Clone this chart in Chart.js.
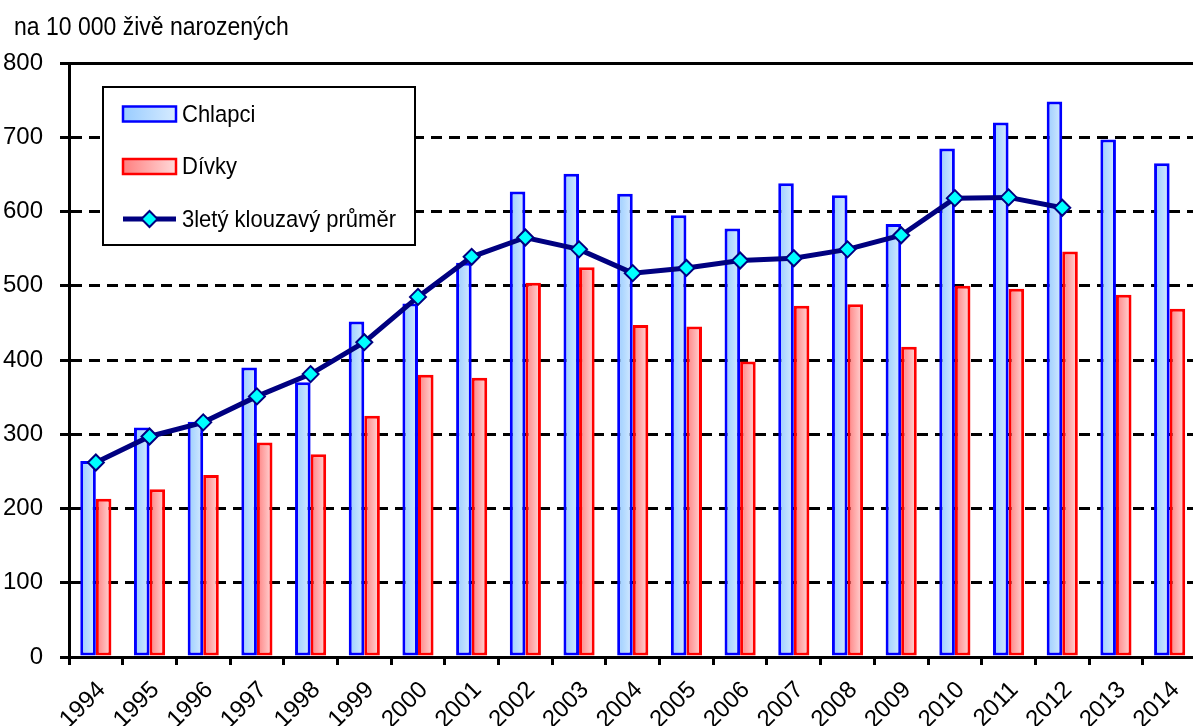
<!DOCTYPE html>
<html lang="cs">
<head>
<meta charset="utf-8">
<title>Chlapci a dívky na 10 000 živě narozených</title>
<script src="https://cdn.jsdelivr.net/npm/chart.js@4"></script>
<style>
  html, body { margin: 0; padding: 0; background: #fff; overflow: hidden; }
  canvas { display: block; }
</style>
</head>
<body>
<canvas id="chart" width="1201" height="726"></canvas>
<script>
// Years on the x axis
const years = ['1994', '1995', '1996', '1997', '1998', '1999', '2000', '2001', '2002', '2003',
  '2004', '2005', '2006', '2007', '2008', '2009', '2010', '2011', '2012', '2013', '2014'];

// Rates per 10 000 live births
const boys = [264, 309, 317, 390, 370, 452, 476, 531, 627, 651,
  624, 595, 577, 638, 622, 583, 685, 720, 748, 697, 665];
const girls = [213, 226, 245, 289, 273, 325, 380, 376, 504, 525,
  447, 445, 398, 473, 475, 418, 500, 496, 546, 488, 469];

// 3-year moving average (no value for the last two years)
const movingAvg = [262, 297, 316, 351, 381, 424, 485, 539, 565, 549,
  517, 524, 534, 537, 549, 568, 618, 619, 605, null, null];

const yMax = 800;
const yStep = 100;
const unitLabel = 'na 10 000 živě narozených';

const FONT = 'Liberation Sans, Arial, sans-serif';

// Text drawn by the plugins is slightly taller than the stock face
function tallText(ctx, text, x, y, size) {
  ctx.save();
  ctx.font = size + 'px ' + FONT;
  ctx.translate(x, y);
  ctx.scale(1, 1.12);
  ctx.fillText(text, 0, 0);
  ctx.restore();
}

/**
 * Horizontal gradient fill for each bar, spanning its own width
 */
const barGradients = {
  id: 'barGradients',
  beforeDatasetsDraw(chart) {
    const ctx = chart.ctx;
    chart.data.datasets.forEach((ds, i) => {
      if (!ds.gradient) return;
      chart.getDatasetMeta(i).data.forEach(bar => {
        const x0 = bar.x - bar.width / 2;
        const g = ctx.createLinearGradient(x0, 0, x0 + bar.width, 0);
        g.addColorStop(0, ds.gradient[0]);
        g.addColorStop(1, ds.gradient[1]);
        bar.options.backgroundColor = g;
      });
    });
  }
};

/**
 * Unit caption above the value axis
 */
const unitCaption = {
  id: 'unitCaption',
  afterDraw(chart) {
    const ctx = chart.ctx;
    ctx.save();
    ctx.fillStyle = '#000';
    ctx.textAlign = 'left';
    ctx.textBaseline = 'alphabetic';
    tallText(ctx, unitLabel, 14, 35, 23);
    ctx.restore();
  }
};

/**
 * Boxed legend inside the plot area
 */
const boxLegend = {
  id: 'boxLegend',
  afterDatasetsDraw(chart) {
    const ctx = chart.ctx;
    const area = chart.chartArea;
    const left = area.left + 34;
    const top = area.top + 24;
    const width = 312;
    const height = 158;
    const rows = [1, 2, 0].map(i => chart.data.datasets[i]);

    ctx.save();
    ctx.fillStyle = '#fff';
    ctx.fillRect(left, top, width, height);
    ctx.lineWidth = 2;
    ctx.strokeStyle = '#000';
    ctx.strokeRect(left, top, width, height);

    const sx = left + 20;
    const sw = 53;
    rows.forEach((ds, r) => {
      const cy = top + 27 + r * 52.5;
      if (ds.gradient) {
        const g = ctx.createLinearGradient(sx, 0, sx + sw, 0);
        g.addColorStop(0, ds.gradient[0]);
        g.addColorStop(1, ds.gradient[1]);
        ctx.fillStyle = g;
        ctx.fillRect(sx, cy - 7.5, sw, 15);
        ctx.lineWidth = 2.5;
        ctx.strokeStyle = ds.borderColor;
        ctx.strokeRect(sx, cy - 7.5, sw, 15);
      } else {
        ctx.lineWidth = ds.borderWidth;
        ctx.strokeStyle = ds.borderColor;
        ctx.beginPath();
        ctx.moveTo(sx, cy);
        ctx.lineTo(sx + sw, cy);
        ctx.stroke();
        const cx = sx + sw / 2;
        const rr = ds.pointRadius;
        ctx.beginPath();
        ctx.moveTo(cx - rr, cy);
        ctx.lineTo(cx, cy - rr);
        ctx.lineTo(cx + rr, cy);
        ctx.lineTo(cx, cy + rr);
        ctx.closePath();
        ctx.fillStyle = ds.pointBackgroundColor;
        ctx.fill();
        ctx.lineWidth = ds.pointBorderWidth;
        ctx.strokeStyle = ds.pointBorderColor;
        ctx.stroke();
      }
      ctx.fillStyle = '#000';
      ctx.textBaseline = 'middle';
      ctx.textAlign = 'left';
      tallText(ctx, ds.label, left + 79, cy + 1, 22);
    });
    ctx.restore();
  }
};

new Chart(document.getElementById('chart'), {
  data: {
    labels: years,
    datasets: [
      {
        type: 'line',
        label: '3letý klouzavý průměr',
        data: movingAvg,
        order: 0,
        borderColor: '#000080',
        borderWidth: 5,
        tension: 0,
        pointStyle: 'rectRot',
        pointRadius: 8,
        pointBackgroundColor: '#00ffff',
        pointBorderColor: '#000080',
        pointBorderWidth: 2
      },
      {
        type: 'bar',
        label: 'Chlapci',
        data: boys,
        order: 1,
        gradient: ['#99ccff', '#d6ebff'],
        backgroundColor: () => '#b3d9ff',
        borderColor: '#0000ff',
        borderWidth: 3,
        borderSkipped: false,
        categoryPercentage: 0.58,
        barPercentage: 1
      },
      {
        type: 'bar',
        label: 'Dívky',
        data: girls,
        order: 1,
        gradient: ['#ff7f7f', '#ffd9d9'],
        backgroundColor: () => '#ffb3b3',
        borderColor: '#ff0000',
        borderWidth: 3,
        borderSkipped: false,
        categoryPercentage: 0.58,
        barPercentage: 1
      }
    ]
  },
  options: {
    responsive: false,
    devicePixelRatio: 1,
    animation: false,
    layout: { autoPadding: false, padding: { left: 0, right: 0, top: 63, bottom: 0 } },
    plugins: {
      legend: { display: false },
      tooltip: { enabled: false },
      title: { display: false }
    },
    scales: {
      x: {
        offset: true,
        grid: {
          offset: true,
          drawOnChartArea: false,
          drawTicks: true,
          tickLength: 8,
          tickWidth: 3,
          tickColor: '#000',
          color: '#000'
        },
        border: { display: true, color: '#000', width: 3 },
        ticks: {
          color: '#000',
          font: { family: FONT, size: 24 },
          minRotation: 45,
          maxRotation: 45,
          autoSkip: false,
          labelOffset: 6,
          padding: 11
        },
        afterFit: scale => { scale.height = 69; }
      },
      y: {
        min: 0,
        max: yMax,
        grid: {
          color: '#000',
          lineWidth: 3,
          tickLength: 9,
          tickWidth: 3,
          tickColor: '#000'
        },
        border: {
          display: true,
          color: '#000',
          width: 3,
          dash: c => (c.tick && c.tick.value > 0 && c.tick.value < yMax) ? [11, 7] : []
        },
        ticks: {
          stepSize: yStep,
          color: '#000',
          font: { family: FONT, size: 24 },
          padding: 17
        },
        afterFit: scale => { scale.width = 69; }
      }
    }
  },
  plugins: [barGradients, boxLegend, unitCaption]
});
</script>
</body>
</html>
